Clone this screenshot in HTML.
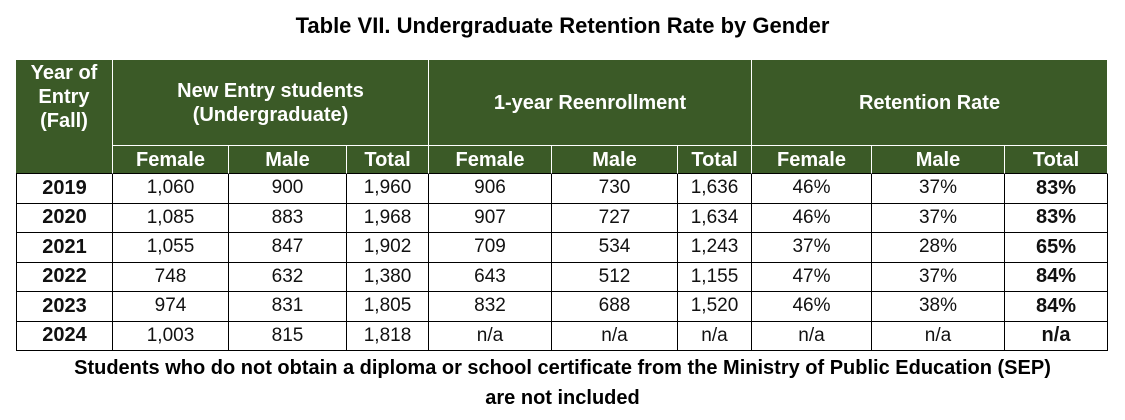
<!DOCTYPE html>
<html><head><meta charset="utf-8"><style>
body{margin:0;width:1125px;height:420px;background:#fff;position:relative;overflow:hidden;font-family:"Liberation Sans Narrow","Liberation Sans",sans-serif;}
.t{position:absolute;left:0;width:1125px;text-align:center;font-weight:bold;color:#000;}
.c{position:absolute;box-sizing:border-box;display:flex;align-items:center;justify-content:center;text-align:center;}
.h{background:#3b5a27;color:#fff;font-weight:bold;border-right:1.5px solid #fff;border-bottom:1.5px solid #fff;font-size:20px;line-height:24px;}
.b{border-right:1.5px solid #000;border-bottom:1.5px solid #000;font-size:19px;color:#111;}
</style></head><body>
<div class="t" style="top:13px;font-size:22px;">Table VII. Undergraduate Retention Rate by Gender</div>
<div id="tbl"></div>
<div class="t" style="top:353px;font-size:20px;line-height:30px;">Students who do not obtain a diploma or school certificate from the Ministry of Public Education (SEP)<br>are not included</div>
<script>
const years=["2019","2020","2021","2022","2023","2024"];
const newF=["1,060","1,085","1,055","748","974","1,003"];
const newM=["900","883","847","632","831","815"];
const newT=["1,960","1,968","1,902","1,380","1,805","1,818"];
const reF=["906","907","709","643","832","n/a"];
const reM=["730","727","534","512","688","n/a"];
const reT=["1,636","1,634","1,243","1,155","1,520","n/a"];
const rrF=["46%","46%","37%","47%","46%","n/a"];
const rrM=["37%","37%","28%","37%","38%","n/a"];
const rrT=["83%","83%","65%","84%","84%","n/a"];
const xs=[16,113,229,347,429,552,678,752,872,1005,1108];
const tbl=document.getElementById('tbl');
function cell(cls,x1,x2,y1,y2,txt,name,extra){
 const d=document.createElement('div');
 d.className='c '+cls;
 d.style.left=x1+'px';d.style.top=y1+'px';d.style.width=(x2-x1)+'px';d.style.height=(y2-y1)+'px';
 if(extra)d.style.cssText+=extra;
 d.innerHTML=txt;
 
 
 tbl.appendChild(d);
}
cell('h',16,113,60,174,'Year of<br>Entry<br>(Fall)','year-header','border-bottom:1.5px solid #000;align-items:flex-start;padding-top:1px;');
cell('h',113,429,60,146,'New Entry students<br>(Undergraduate)','new-entry-header');
cell('h',429,752,60,146,'1-year Reenrollment','reenrollment-header');
cell('h',752,1108,60,146,'Retention Rate','retention-header');
const subs=["Female","Male","Total"];
for(let i=1;i<10;i++){
 cell('h',xs[i],xs[i+1],146,174,subs[(i-1)%3],'subheader-'+subs[(i-1)%3].toLowerCase(),'border-bottom:1.5px solid #000;');
}
const cols=[years,newF,newM,newT,reF,reM,reT,rrF,rrM,rrT];
const rh=29.5;
for(let r=0;r<years.length;r++){
 const y1=174+r*rh,y2=174+(r+1)*rh;
 for(let c=0;c<10;c++){
  const bold=(c==0||c==9);
  let ex='font-weight:'+(bold?'bold':'normal')+';'+(bold?'font-size:20px;':'');
  if(c==0)ex+='border-left:1.5px solid #000;';
  cell('b',xs[c],xs[c+1],y1,y2,cols[c][r],'cell-'+years[r]+'-'+c,ex);
 }
}
</script>
</body></html>
